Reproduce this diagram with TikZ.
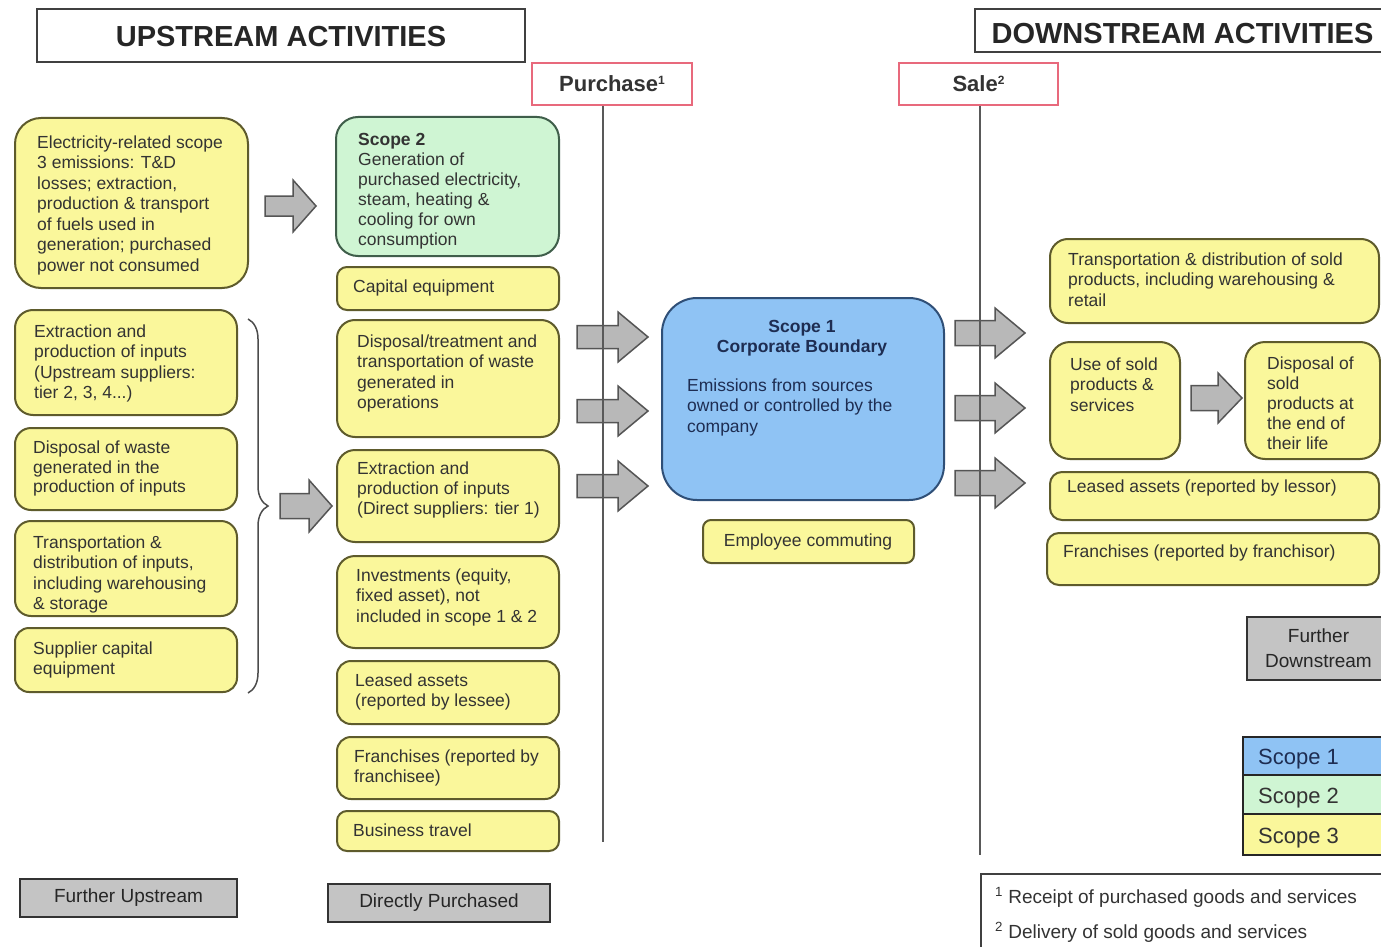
\documentclass[tikz,border=0pt]{standalone}
\usepackage{fontspec}
\setmainfont{Liberation Sans}
\usetikzlibrary{decorations.pathreplacing}
\definecolor{yfill}{HTML}{FAF79B}
\definecolor{ydraw}{HTML}{5E5B2C}
\definecolor{gfill}{HTML}{CFF5D3}
\definecolor{gdraw}{HTML}{3F5E4A}
\definecolor{bfill}{HTML}{8FC3F4}
\definecolor{bdraw}{HTML}{2F4F77}
\definecolor{afill}{HTML}{B8B8B8}
\definecolor{adraw}{HTML}{555555}
\definecolor{grfill}{HTML}{C4C4C4}
\definecolor{pinkd}{HTML}{E8697C}
\definecolor{txtc}{HTML}{333333}
\definecolor{navy}{HTML}{1E2D52}
\tikzset{
 ybox/.style={draw=ydraw, fill=yfill, line width=2pt},
 gbox/.style={draw=gdraw, fill=gfill, line width=2pt},
 bbox/.style={draw=bdraw, fill=bfill, line width=2pt},
 graybox/.style={draw=black!80, fill=grfill, line width=2.5pt, text=black!85, font=\fontsize{19}{25}\selectfont, align=center},
 titlebox/.style={draw=black!75, line width=2.2pt, font=\fontsize{29}{32}\bfseries\selectfont, text=black!85},
 pbox/.style={draw=pinkd, fill=white, line width=2pt, font=\fontsize{22}{24}\bfseries\selectfont, text=black!80},
 legbox/.style={draw=black!85, line width=2pt},
 txt/.style={inner sep=0pt, align=left, text=txtc, font=\fontsize{17.5}{20.5}\selectfont},
 fat/.style={draw=adraw, fill=afill, line width=1.5pt, line join=miter},
 vline/.style={draw=black!65, line width=1.6pt},
}
\newcommand\mkbox[7]{\node[#1, inner sep=0pt, minimum width={#5-#3}, minimum height={#6-#4}] (#2) at ({(#3+#5)/2},{(#4+#6)/2}) {#7};}
\newcommand\mktext[5]{\node[txt, anchor=north west, #1] (#2) at ({#3},{#4-14.35}) {\strut#5};}
\newcommand\fatarrow[6]{\draw[fat] (#1,{#2-#5}) -- (#4,{#2-#5}) -- (#4,{#2-#6}) -- (#3,#2) -- (#4,{#2+#6}) -- (#4,{#2+#5}) -- (#1,{#2+#5}) -- cycle;}
\newcommand\lowered[2]{\raisebox{-#1}[\height][\depth]{#2}}
\newcommand\supmark[1]{\raisebox{7pt}{\fontsize{12}{12}\selectfont #1}}
\begin{document}
\begin{tikzpicture}[x=1pt,y=-1pt]
\useasboundingbox (0,0) rectangle (1381,947);
\clip (0,0) rectangle (1381,947);
\fill[white] (0,0) rectangle (1381,947);
% titles
\mkbox{titlebox}{up}{37}{9}{525}{62}{\lowered{1.5pt}{UPSTREAM ACTIVITIES}}
\mkbox{titlebox}{down}{975}{9}{1390}{52}{\lowered{3pt}{DOWNSTREAM ACTIVITIES}}
\mkbox{pbox}{purch}{532}{63}{692}{105}{Purchase\supmark{1}}
\mkbox{pbox}{sale}{899}{63}{1058}{105}{Sale\supmark{2}}
% left column
\mkbox{ybox, rounded corners=26pt}{elec}{15}{118}{248}{288}{}
\mktext{}{elect}{37}{148}{Electricity-related scope\\3 emissions: T\&D\\losses; extraction,\\production \& transport\\of fuels used in\\generation; purchased\\power not consumed}
\mkbox{ybox, rounded corners=18pt}{extup}{15}{310}{237}{415}{}
\mktext{}{extupt}{34}{337}{Extraction and\\production of inputs\\(Upstream suppliers:\\tier 2, 3, 4...)}
\mkbox{ybox, rounded corners=16pt}{dispw}{15}{428}{237}{510}{}
\mktext{font=\fontsize{17.5}{19.5}\selectfont}{dispwt}{33}{454}{Disposal of waste\\generated in the\\production of inputs}
\mkbox{ybox, rounded corners=16pt}{transin}{15}{521}{237}{616}{}
\mktext{}{transint}{33}{548}{Transportation \&\\distribution of inputs,\\including warehousing\\\& storage}
\mkbox{ybox, rounded corners=14pt}{supcap}{15}{628}{237}{692}{}
\mktext{}{supcapt}{33}{654}{Supplier capital\\equipment}
\draw[decorate, decoration={brace, amplitude=20pt}, line width=1.5pt, draw=black!70] (248,319) -- (248,693);
% middle column
\mkbox{gbox, rounded corners=22pt}{scope2}{336}{117}{559}{256}{}
\mktext{font=\fontsize{17.5}{20}\selectfont}{scope2t}{358}{146}{\textbf{Scope 2}\\Generation of\\purchased electricity,\\steam, heating \&\\cooling for own\\consumption}
\mkbox{ybox, rounded corners=10pt}{capital}{337}{267}{559}{310}{}
\mktext{}{capitalt}{353}{292}{Capital equipment}
\mkbox{ybox, rounded corners=18pt}{disptreat}{337}{320}{559}{437}{}
\mktext{}{disptreatt}{357}{347}{Disposal/treatment and\\transportation of waste\\generated in\\operations}
\mkbox{ybox, rounded corners=18pt}{extdir}{337}{450}{559}{542}{}
\mktext{font=\fontsize{17.5}{20}\selectfont}{extdirt}{357}{475}{Extraction and\\production of inputs\\(Direct suppliers: tier 1)}
\mkbox{ybox, rounded corners=18pt}{invest}{337}{556}{559}{648}{}
\mktext{}{investt}{356}{581}{Investments (equity,\\fixed asset), not\\included in scope 1 \& 2}
\mkbox{ybox, rounded corners=14pt}{leasee}{337}{661}{559}{724}{}
\mktext{}{leaseet}{355}{686}{Leased assets\\(reported by lessee)}
\mkbox{ybox, rounded corners=14pt}{franee}{337}{737}{559}{799}{}
\mktext{}{franeet}{354}{762}{Franchises (reported by\\franchisee)}
\mkbox{ybox, rounded corners=10pt}{travel}{337}{811}{559}{851}{}
\mktext{}{travelt}{353}{836}{Business travel}
\mkbox{graybox}{furup}{20}{879}{237}{917}{Further Upstream}
\mkbox{graybox}{dirp}{328}{884}{550}{922}{Directly Purchased}
% centre
\mkbox{bbox, rounded corners=35pt}{scope1}{662}{298}{944}{500}{}
\node[txt, align=center, anchor=north, text=navy] (scope1h) at (802,{332-14.35}) {\strut\textbf{Scope 1}\\\textbf{Corporate Boundary}};
\mktext{text=navy}{scope1t}{687}{391}{Emissions from sources\\owned or controlled by the\\company}
\mkbox{ybox, rounded corners=8pt}{commute}{703}{520}{914}{563}{}
\node[txt, align=center, anchor=north] (commutet) at (808,{546-14.35}) {\strut Employee commuting};
% right column
\mkbox{ybox, rounded corners=18pt}{transsold}{1050}{239}{1379}{323}{}
\mktext{}{transsoldt}{1068}{265}{Transportation \& distribution of sold\\products, including warehousing \&\\retail}
\mkbox{ybox, rounded corners=20pt}{usesold}{1050}{342}{1180}{459}{}
\mktext{}{usesoldt}{1070}{370}{Use of sold\\products \&\\services}
\mkbox{ybox, rounded corners=20pt}{dispsold}{1245}{342}{1380}{459}{}
\mktext{font=\fontsize{17.5}{20}\selectfont}{dispsoldt}{1267}{370}{Disposal of\\sold\\products at\\the end of\\their life}
\mkbox{ybox, rounded corners=12pt}{leasor}{1050}{472}{1379}{520}{}
\mktext{}{leasort}{1067}{492}{Leased assets (reported by lessor)}
\mkbox{ybox, rounded corners=12pt}{franor}{1047}{533}{1379}{585}{}
\mktext{}{franort}{1063}{557}{Franchises (reported by franchisor)}
\mkbox{graybox}{furdown}{1247}{617}{1390}{680}{Further\\Downstream}
% legend
\mkbox{legbox, fill=bfill}{leg1}{1243}{737}{1392}{775}{}
\mkbox{legbox, fill=gfill}{leg2}{1243}{775}{1392}{814}{}
\mkbox{legbox, fill=yfill}{leg3}{1243}{814}{1392}{855}{}
\node[txt, font=\fontsize{22}{24}\selectfont, anchor=base west, text=navy] (leg1t) at (1258,764) {Scope 1};
\node[txt, font=\fontsize{22}{24}\selectfont, anchor=base west, text=black!80] (leg2t) at (1258,803) {Scope 2};
\node[txt, font=\fontsize{22}{24}\selectfont, anchor=base west, text=black!80] (leg3t) at (1258,843) {Scope 3};
% footnotes
\mkbox{legbox, draw=black!75}{foot}{981}{874}{1392}{960}{}
\node[txt, font=\fontsize{19}{35}\selectfont, anchor=north west] (foott) at (995,{903-24.5}) {\strut\textsuperscript{1} Receipt of purchased goods and services\\\textsuperscript{2} Delivery of sold goods and services};
% block arrows
\fatarrow{265}{206}{316}{293}{10}{26}
\fatarrow{280}{506}{332}{309}{12.5}{26}
\fatarrow{577}{337}{648}{618}{11.5}{25}
\fatarrow{577}{411}{648}{618}{11.5}{25}
\fatarrow{577}{486}{648}{618}{11.5}{25}
\fatarrow{955}{333}{1025}{995}{12.5}{25}
\fatarrow{955}{408}{1025}{995}{12.5}{25}
\fatarrow{955}{483}{1025}{995}{12.5}{25}
\fatarrow{1191}{398}{1242}{1218}{12.5}{25}
% boundary lines
\coordinate (pend) at (603,842);
\coordinate (send) at (980,855);
\draw[vline] (purch.south -| pend) -- (pend);
\draw[vline] (sale.south -| send) -- (send);
\end{tikzpicture}
\end{document}
